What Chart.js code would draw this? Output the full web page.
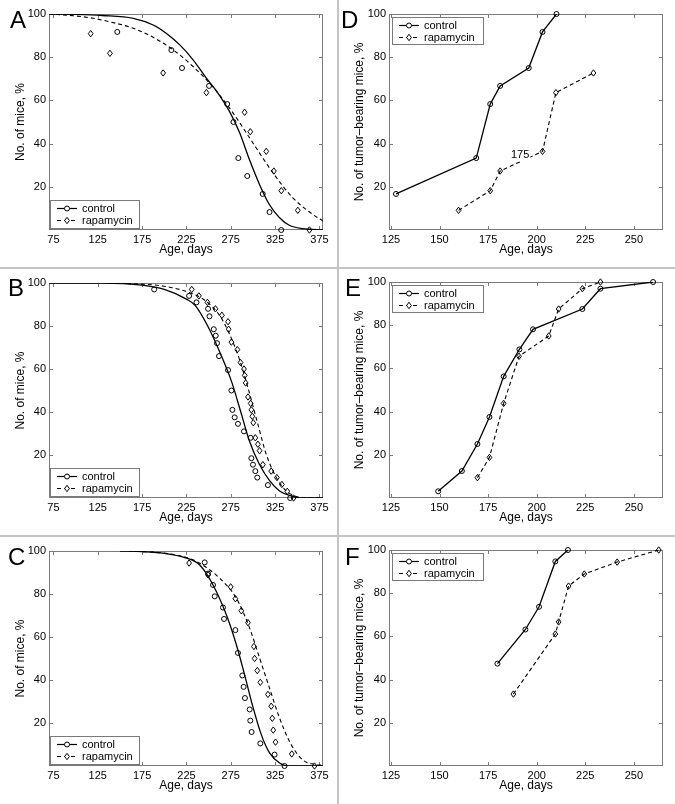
<!DOCTYPE html>
<html>
<head>
<meta charset="utf-8">
<script src="https://cdn.jsdelivr.net/npm/chart.js@4.4.1/dist/chart.umd.min.js"></script>
<style>
  body { margin: 0; background: #fff; }
  #wrap { position: relative; width: 675px; height: 804px; overflow: hidden; }
  #wrap canvas { position: absolute; }
  .sep { position: absolute; background: #c4c4c4; }
</style>
</head>
<body>
<div id="wrap">
  <canvas id="panel-a" width="338" height="268" style="left:0;top:0"></canvas>
  <canvas id="panel-b" width="338" height="268" style="left:0;top:268px"></canvas>
  <canvas id="panel-c" width="338" height="268" style="left:0;top:536px"></canvas>
  <canvas id="panel-d" width="336" height="268" style="left:339px;top:0"></canvas>
  <canvas id="panel-e" width="336" height="268" style="left:339px;top:268px"></canvas>
  <canvas id="panel-f" width="336" height="268" style="left:339px;top:536px"></canvas>
  <div class="sep" style="left:337px;top:0;width:2px;height:804px"></div>
  <div class="sep" style="left:0;top:267px;width:675px;height:2px"></div>
  <div class="sep" style="left:0;top:535px;width:675px;height:2px"></div>
</div>
<script>
// tick labels
const leftAgeTicks = [75, 125, 175, 225, 275, 325, 375];
const rightAgeTicks = [125, 150, 175, 200, 225, 250];
const pctTicks = [20, 40, 60, 80, 100];

// A - survival, observed
const aCtrlAge = [147, 208, 220, 250.5, 271, 278, 283.5, 293.6, 311, 318.7, 331.9];
const aCtrlPct = [91.7, 83.3, 75, 66.7, 58.3, 50, 33.3, 25, 16.7, 8.3, 0];
const aRapaAge = [117, 138.7, 198.7, 247.5, 290.6, 297, 315, 323.6, 332, 350.6, 363.7];
const aRapaPct = [90.9, 81.8, 72.7, 63.6, 54.5, 45.5, 36.4, 27.3, 18.2, 9.1, 0];
// A - fitted curves
const aCtrlFitAge = [70, 100, 130, 165, 187.5, 202.5, 217.5, 232.5, 247.5, 260.5, 273.5, 285, 296, 307.5, 318.5, 330, 341, 356, 379];
const aCtrlFitPct = [100, 99.8, 99.3, 98, 94.9, 91, 85.7, 78.8, 70.3, 63.4, 54.9, 45, 32.6, 21, 11.8, 5.7, 2.2, 0.6, 0];
const aRapaFitAge = [70, 97.5, 120, 142.5, 165, 187.5, 210, 232.5, 255, 277.5, 300, 322.5, 345, 367.5, 379];
const aRapaFitPct = [100, 99.2, 98, 96, 93.4, 89.2, 83.4, 75.7, 66.2, 54.2, 40.3, 26.5, 14.9, 7.2, 4.2];

// B
const bCtrlAge = [188.6, 228, 236.3, 249.4, 251, 255.8, 258, 259.5, 261.7, 271.9, 275.7, 276.8, 279.4, 283.1, 289.9, 297.4, 298.2, 300, 302.7, 304.9, 316.9, 342];
const bCtrlPct = [97, 94, 91, 88, 84.5, 78.5, 75.5, 72, 66, 59.5, 50, 41, 37.5, 34.5, 31, 28, 18.5, 15.5, 12.5, 9.5, 6, 0];
const bRapaAge = [231, 239, 248.7, 257.7, 265, 271.9, 272.6, 275.7, 282.4, 286, 289.9, 290.7, 291.8, 294.4, 297.4, 298.2, 299.3, 300.4, 302.7, 305.6, 307.5, 311.2, 320.6, 327, 332.6, 338.7, 345.8];
const bRapaPct = [97, 94, 91, 88, 85, 82, 78.5, 72.5, 69, 63, 60, 57, 53.5, 47, 44, 41, 38, 35, 28, 25, 22, 15.5, 12.5, 9.5, 6.3, 3.1, 0];
const bCtrlFitAge = [70, 130, 175, 200, 225, 235, 249, 264, 276, 287, 296, 307.5, 319, 330, 343, 355, 379];
const bCtrlFitPct = [100, 100, 99, 97, 92.5, 89.5, 80, 66.5, 54, 39, 26.5, 15.5, 8, 3.3, 1, 0, 0];
const bRapaFitAge = [150, 200, 225, 245.6, 264.4, 283, 294.4, 305.6, 315, 326.3, 337.5, 347, 360, 379];
const bRapaFitPct = [100, 98.5, 96, 92, 83.6, 66.6, 51.2, 34.2, 20.3, 9.5, 3.3, 1, 0, 0];

// C
const cCtrlAge = [245.6, 249.4, 255, 256.9, 266.2, 267.4, 280.2, 283.1, 288, 289.5, 291, 296.3, 297, 298.5, 308.3, 324.4, 335.6];
const cCtrlPct = [94.7, 89.5, 84.2, 78.9, 73.7, 68.4, 63.2, 52.6, 42.1, 36.8, 31.6, 26.3, 21.1, 15.8, 10.5, 5.3, 0];
const cRapaAge = [228, 249.4, 274.9, 280.2, 286.9, 294.4, 301.1, 301.9, 304.9, 308.3, 316.9, 320.6, 321.8, 322.9, 325.5, 343.8, 369.4];
const cRapaPct = [94.4, 88.9, 83.3, 77.8, 72.2, 66.7, 55.6, 50, 44.4, 38.9, 33.3, 27.8, 22.2, 16.7, 11.1, 5.6, 0];
const cCtrlFitAge = [150, 175, 200, 225, 240, 255, 270, 281.3, 290.6, 299.3, 309.4, 318.7, 330, 341, 379];
const cCtrlFitPct = [100, 99.7, 98.9, 96.7, 93.5, 84.2, 70.3, 56.4, 42.4, 28.5, 14.6, 6.1, 1.4, 0, 0];
const cRapaFitAge = [160, 200, 225, 240, 262.5, 281.3, 296.3, 307.5, 318.7, 330, 343.2, 356.2, 369.4, 379];
const cRapaFitPct = [100, 99, 97, 94.3, 87.3, 78, 64.1, 50.2, 36.2, 22.3, 9.9, 2.8, 0.8, 0.3];

// D - tumor incidence
const dCtrlAge = [127.6, 168.9, 176.1, 181.2, 195.9, 203, 210.2];
const dCtrlPct = [16.7, 33.3, 58.3, 66.7, 75, 91.7, 100];
const dRapaAge = [159.8, 176.1, 181.2, 203, 209.9, 229.2];
const dRapaPct = [9.1, 18.2, 27.3, 36.4, 63.6, 72.7];

// E
const eCtrlAge = [149.3, 161.5, 169.5, 175.7, 183, 191.1, 198.1, 223.5, 232.8, 259.9];
const eCtrlPct = [3.1, 12.5, 25, 37.5, 56.3, 68.8, 78.1, 87.5, 96.9, 100];
const eRapaAge = [169.5, 175.7, 183, 190.9, 206.2, 211.3, 223.5, 232.8];
const eRapaPct = [9.4, 18.8, 43.8, 65.6, 75, 87.5, 96.9, 100];

// F
const fCtrlAge = [179.8, 194.2, 201.2, 209.6, 216.1];
const fCtrlPct = [47.4, 63.2, 73.7, 94.7, 100];
const fRapaAge = [188, 209.6, 211.3, 216.4, 224.5, 241.4, 262.8];
const fRapaPct = [33.3, 61.1, 66.7, 83.3, 88.9, 94.4, 100];

const FONT = '"Liberation Sans", Arial, Helvetica, sans-serif';
const AXIS_GRAY = '#7a7a7a';
const DASH = [4, 3];
Chart.defaults.font.family = FONT;
Chart.defaults.color = '#000';
Chart.defaults.animation = false;

const pts = (xs, ys) => xs.map((x, i) => ({ x: x, y: ys[i] }));

function series(xs, ys, opts) {
    return Object.assign({
        data: pts(xs, ys),
        borderColor: '#000',
        backgroundColor: 'rgba(0,0,0,0)',
        pointBorderColor: '#000',
        pointBackgroundColor: 'rgba(0,0,0,0)',
        pointBorderWidth: 1,
        borderWidth: 1.2,
        showLine: false,
        pointRadius: 0,
        pointHoverRadius: 0
    }, opts);
}

function drawMarker(ctx, style, x, y, fill) {
    ctx.beginPath();
    if (style === 'circle') {
        ctx.arc(x, y, 2.5, 0, Math.PI * 2);
    } else {
        ctx.moveTo(x, y - 3.2);
        ctx.lineTo(x + 2.4, y);
        ctx.lineTo(x, y + 3.2);
        ctx.lineTo(x - 2.4, y);
        ctx.closePath();
    }
    if (fill) { ctx.fillStyle = fill; ctx.fill(); }
    ctx.stroke();
}

// box around the axes with inward ticks on all four sides (MATLAB style)
const framePlugin = {
    id: 'frame',
    beforeDatasetsDraw(chart) {
        const { ctx, chartArea: a, scales: { x, y } } = chart;
        ctx.save();
        ctx.strokeStyle = AXIS_GRAY;
        ctx.lineWidth = 1;
        ctx.strokeRect(a.left + 0.5, a.top + 0.5, a.width - 1, a.height - 1);
        ctx.beginPath();
        x.ticks.forEach(t => {
            const px = Math.round(x.getPixelForValue(t.value)) + 0.5;
            ctx.moveTo(px, a.bottom); ctx.lineTo(px, a.bottom - 4);
            ctx.moveTo(px, a.top); ctx.lineTo(px, a.top + 4);
        });
        y.ticks.forEach(t => {
            const py = Math.round(y.getPixelForValue(t.value)) + 0.5;
            ctx.moveTo(a.left, py); ctx.lineTo(a.left + 4, py);
            ctx.moveTo(a.right, py); ctx.lineTo(a.right - 4, py);
        });
        ctx.stroke();
        ctx.restore();
    }
};

// boxed legend inside the axes, plus panel letter and stray notes
const extrasPlugin = {
    id: 'extras',
    afterDatasetsDraw(chart, args, o) {
        const { ctx, chartArea: a, scales: { x, y } } = chart;
        ctx.save();
        if (o.note) {
            const nx = x.getPixelForValue(o.note.x), ny = y.getPixelForValue(o.note.y);
            ctx.font = '11px ' + FONT;
            const w = ctx.measureText(o.note.text).width;
            ctx.fillStyle = '#fff';
            ctx.fillRect(nx - w / 2 - 1, ny - 6, w + 2, 12);
            ctx.fillStyle = '#000';
            ctx.textAlign = 'center';
            ctx.textBaseline = 'middle';
            ctx.fillText(o.note.text, nx, ny);
        }
        if (o.legend) {
            const L = o.legend;
            const left = a.left + L.inset;
            const top = L.corner === 'sw' ? a.bottom - L.inset - L.height : a.top + L.inset;
            ctx.fillStyle = '#fff';
            ctx.fillRect(left, top, L.width, L.height);
            ctx.strokeStyle = AXIS_GRAY;
            ctx.lineWidth = 1;
            ctx.strokeRect(left + 0.5, top + 0.5, L.width - 1, L.height - 1);
            L.items.forEach((it, i) => {
                const cy = top + 8.5 + i * 12;
                ctx.strokeStyle = '#000';
                ctx.lineWidth = 1.2;
                ctx.setLineDash(it.dash ? DASH : []);
                ctx.beginPath();
                ctx.moveTo(left + 7, cy);
                ctx.lineTo(left + 27, cy);
                ctx.stroke();
                ctx.setLineDash([]);
                ctx.lineWidth = 1;
                drawMarker(ctx, it.style, left + 17, cy, '#fff');
                ctx.fillStyle = '#000';
                ctx.font = '11px ' + FONT;
                ctx.textAlign = 'left';
                ctx.textBaseline = 'middle';
                ctx.fillText(it.label, left + 32, cy + 0.5);
            });
        }
        ctx.restore();
    },
    afterDraw(chart, args, o) {
        if (!o.letter) return;
        const ctx = chart.ctx;
        ctx.save();
        ctx.fillStyle = '#000';
        ctx.font = '24px ' + FONT;
        ctx.textBaseline = 'alphabetic';
        ctx.textAlign = 'left';
        ctx.fillText(o.letter.text, o.letter.x, o.letter.y);
        ctx.restore();
    }
};

// markers drawn by hand so they match MATLAB's thin hollow symbols
const markerPlugin = {
    id: 'markers',
    afterDatasetsDraw(chart) {
        const { ctx } = chart;
        ctx.save();
        ctx.strokeStyle = '#000';
        ctx.lineWidth = 1;
        chart.data.datasets.forEach((ds, i) => {
            if (!ds.marker) return;
            chart.getDatasetMeta(i).data.forEach(el => drawMarker(ctx, ds.marker, el.x, el.y, null));
        });
        ctx.restore();
    }
};

function scalesFor(xmin, xmax, xticks, ytitle, yWidth) {
    return {
        x: {
            type: 'linear', min: xmin, max: xmax,
            afterBuildTicks: s => { s.ticks = xticks.map(v => ({ value: v })); },
            afterFit: s => { s.height = 38; },
            grid: { display: false, drawTicks: false },
            border: { display: false },
            ticks: { font: { size: 11 }, padding: 3, maxRotation: 0, autoSkip: false, color: '#000' },
            title: { display: true, text: 'Age, days', font: { size: 12 }, color: '#000', padding: { top: 0, bottom: 11 } }
        },
        y: {
            type: 'linear', min: 0, max: 100,
            afterBuildTicks: s => { s.ticks = pctTicks.map(v => ({ value: v })); },
            afterFit: s => { s.width = yWidth; },
            grid: { display: false, drawTicks: false },
            border: { display: false },
            ticks: { font: { size: 11 }, padding: 3, color: '#000' },
            title: { display: true, text: ytitle, font: { size: 12 }, color: '#000', padding: { top: 13, bottom: 0 } }
        }
    };
}

const legendItems = [
    { label: 'control', style: 'circle', dash: false },
    { label: 'rapamycin', style: 'diamond', dash: true }
];

function survivalPanel(id, letter, top, ctrl, rapa, ctrlFit, rapaFit) {
    new Chart(document.getElementById(id), {
        type: 'scatter',
        data: {
            datasets: [
                series(ctrlFit[0], ctrlFit[1], { showLine: true, cubicInterpolationMode: 'monotone', borderWidth: 1.3 }),
                series(rapaFit[0], rapaFit[1], { showLine: true, cubicInterpolationMode: 'monotone', borderWidth: 1.1, borderDash: DASH }),
                series(ctrl[0], ctrl[1], { marker: 'circle' }),
                series(rapa[0], rapa[1], { marker: 'diamond' })
            ]
        },
        options: {
            responsive: false,
            layout: { padding: { top: top, right: 15, bottom: 0, left: 0 } },
            scales: scalesFor(70, 379, leftAgeTicks, 'No. of mice, %', 49),
            plugins: {
                legend: { display: false },
                tooltip: { enabled: false },
                extras: {
                    letter: letter,
                    legend: { corner: 'sw', inset: 1, width: 90, height: 29, items: legendItems }
                }
            }
        },
        plugins: [framePlugin, markerPlugin, extrasPlugin]
    });
}

function tumorPanel(id, letter, ctrl, rapa, note) {
    new Chart(document.getElementById(id), {
        type: 'scatter',
        data: {
            datasets: [
                series(ctrl[0], ctrl[1], { showLine: true, borderWidth: 1.3, marker: 'circle' }),
                series(rapa[0], rapa[1], { showLine: true, borderWidth: 1.1, borderDash: DASH, marker: 'diamond' })
            ]
        },
        options: {
            responsive: false,
            layout: { padding: { top: 14, right: 12, bottom: 0, left: 0 } },
            scales: scalesFor(124, 265, rightAgeTicks, 'No. of tumor\u2013bearing mice, %', 50),
            plugins: {
                legend: { display: false },
                tooltip: { enabled: false },
                extras: {
                    letter: letter,
                    note: note,
                    legend: { corner: 'nw', inset: 3, width: 92, height: 28, items: legendItems }
                }
            }
        },
        plugins: [framePlugin, markerPlugin, extrasPlugin]
    });
}

survivalPanel('panel-a', { text: 'A', x: 10, y: 28 }, 14,
    [aCtrlAge, aCtrlPct], [aRapaAge, aRapaPct], [aCtrlFitAge, aCtrlFitPct], [aRapaFitAge, aRapaFitPct]);
survivalPanel('panel-b', { text: 'B', x: 8, y: 28 }, 15,
    [bCtrlAge, bCtrlPct], [bRapaAge, bRapaPct], [bCtrlFitAge, bCtrlFitPct], [bRapaFitAge, bRapaFitPct]);
survivalPanel('panel-c', { text: 'C', x: 8, y: 29 }, 15,
    [cCtrlAge, cCtrlPct], [cRapaAge, cRapaPct], [cCtrlFitAge, cCtrlFitPct], [cRapaFitAge, cRapaFitPct]);

tumorPanel('panel-d', { text: 'D', x: 2, y: 28 }, [dCtrlAge, dCtrlPct], [dRapaAge, dRapaPct],
    { text: '175', x: 191.5, y: 34.6 });
tumorPanel('panel-e', { text: 'E', x: 6, y: 28 }, [eCtrlAge, eCtrlPct], [eRapaAge, eRapaPct]);
tumorPanel('panel-f', { text: 'F', x: 6, y: 29 }, [fCtrlAge, fCtrlPct], [fRapaAge, fRapaPct]);
</script>
</body>
</html>
